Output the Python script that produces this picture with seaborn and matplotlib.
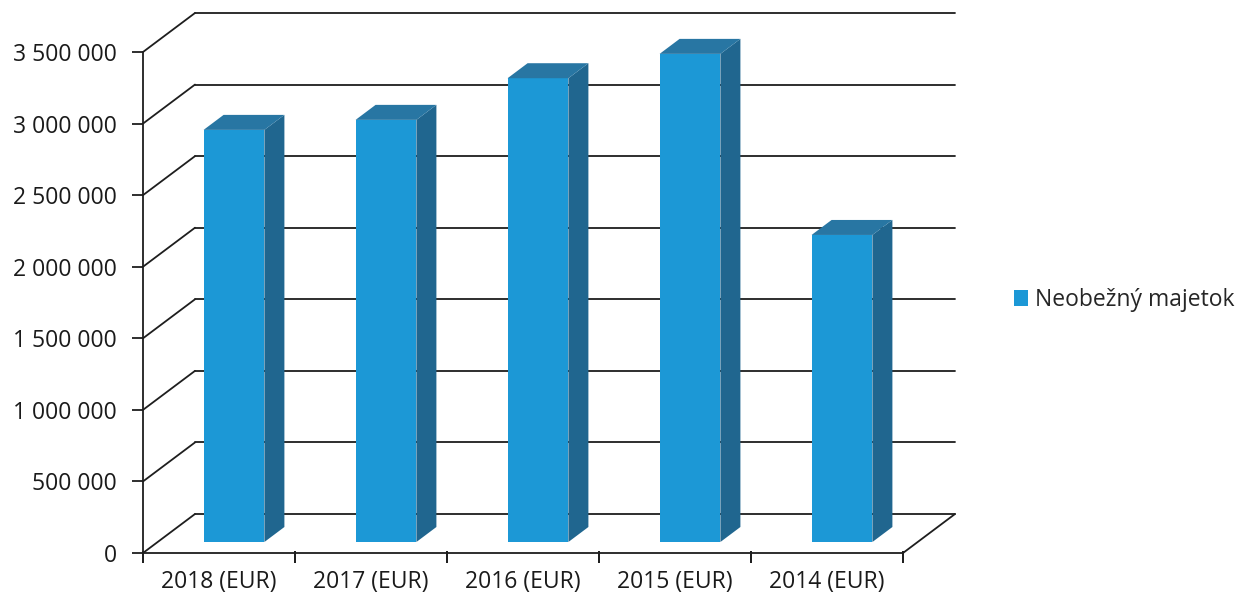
import matplotlib
matplotlib.use("Agg")
import matplotlib.pyplot as plt
import matplotlib.transforms as mtransforms
from matplotlib.patches import Polygon, Rectangle
from matplotlib.ticker import FuncFormatter
import seaborn as sns
import pandas as pd

# ---- data ----
categories = ["2018 (EUR)", "2017 (EUR)", "2016 (EUR)", "2015 (EUR)", "2014 (EUR)"]
values = [2879000, 2949000, 3240000, 3410000, 2145000]
series_name = "Neobežný majetok"
y_ticks = [0, 500000, 1000000, 1500000, 2000000, 2500000, 3000000, 3500000]

# ---- style ----
sns.set_theme(style="white")
plt.rcParams["font.family"] = ["Open Sans", "DejaVu Sans"]

FRONT = "#1c98d6"
TOP = "#2876a3"
SIDE = "#20668f"
LINE = "#1e1e1e"

W, H = 1249, 603
fig = plt.figure(figsize=(W / 100, H / 100), dpi=100)
ax = fig.add_axes([143 / W, (H - 553) / H, (903 - 143) / W, (553 - 52) / H])

df = pd.DataFrame({"year": categories, "value": values})
sns.barplot(data=df, x="year", y="value", color=FRONT, saturation=1,
            width=0.40, ax=ax, zorder=3)

ax.set_xlim(-0.5, len(categories) - 0.5)
ax.set_ylim(0, 3500000)
ax.set_yticks(y_ticks)
ax.yaxis.set_major_formatter(FuncFormatter(lambda v, p: f"{int(v):,}".replace(",", " ")))
ax.set_xlabel("")
ax.set_ylabel("")
for s in ax.spines.values():
    s.set_visible(False)
ax.patch.set_alpha(0)

# depth offsets (pixels)
BACK_DX, BACK_DY = 52, 39
BAR_DX, BAR_DY = 15, 11
SIDE_DX, SIDE_DY = 20, 15

to_disp = ax.transData.transform
ident = mtransforms.IdentityTransform()
x0d, x1d = ax.get_xlim()
LW = 1.3

# back wall gridlines + left wall diagonals
back_tr = mtransforms.offset_copy(ax.transData, fig=fig, x=BACK_DX, y=BACK_DY, units="dots")
for v in y_ticks:
    ax.plot([x0d, x1d], [v, v], color=LINE, lw=LW, transform=back_tr, clip_on=False, zorder=1)
    px, py = to_disp((x0d, v))
    ax.add_line(plt.Line2D([px, px + BACK_DX], [py, py + BACK_DY], color=LINE, lw=LW,
                           transform=ident, clip_on=False, zorder=1))
# floor: front edge and right diagonal
ax.plot([x0d, x1d], [0, 0], color=LINE, lw=LW, clip_on=False, zorder=1)
px, py = to_disp((x1d, 0))
ax.add_line(plt.Line2D([px, px + BACK_DX], [py, py + BACK_DY], color=LINE, lw=LW,
                       transform=ident, clip_on=False, zorder=1))
# front vertical value axis
ax.plot([x0d, x0d], [0, y_ticks[-1]], color=LINE, lw=LW, clip_on=False, zorder=1)

# move bars into depth and add top + side faces
bar_tr = mtransforms.offset_copy(ax.transData, fig=fig, x=BAR_DX, y=BAR_DY, units="dots")
for patch in list(ax.patches):
    patch.set_transform(bar_tr)
    patch.set_clip_on(False)
    patch.set_linewidth(0)
    bx, by = patch.get_x(), patch.get_y()
    bw, bh = patch.get_width(), patch.get_height()
    (lx, by0) = to_disp((bx, by))
    (rx, ty) = to_disp((bx + bw, by + bh))
    lx += BAR_DX; rx += BAR_DX; by0 += BAR_DY; ty += BAR_DY
    side = Polygon([(rx, by0), (rx + SIDE_DX, by0 + SIDE_DY), (rx + SIDE_DX, ty + SIDE_DY), (rx, ty)],
                   closed=True, facecolor=SIDE, edgecolor="none", transform=ident,
                   clip_on=False, zorder=3)
    top = Polygon([(lx, ty), (lx + SIDE_DX, ty + SIDE_DY), (rx + SIDE_DX, ty + SIDE_DY), (rx, ty)],
                  closed=True, facecolor=TOP, edgecolor="none", transform=ident,
                  clip_on=False, zorder=3)
    ax.add_patch(side)
    ax.add_patch(top)

# ticks
ax.tick_params(axis="y", which="major", left=True, length=8, width=LW, color=LINE,
               labelsize=16.5, labelcolor="#1a1a1a", pad=11)
ax.tick_params(axis="x", which="major", bottom=False, labelsize=16.5, labelcolor="#1a1a1a", pad=6)
# x tick marks at category boundaries
for i in range(len(categories) + 1):
    ax.plot([i - 0.5, i - 0.5], [0, 0], marker="|", markersize=9, markeredgewidth=LW, color=LINE,
            transform=mtransforms.offset_copy(ax.transData, fig=fig, x=0, y=-4, units="dots"),
            clip_on=False, zorder=1)

# legend
handle = Rectangle((0, 0), 1, 1, facecolor=FRONT, edgecolor="none")
fig.legend([handle], [series_name], loc="center left", bbox_to_anchor=(1014 / W, 1 - 300 / H),
           frameon=False, fontsize=16.5, handlelength=0.6, handleheight=0.7,
           handletextpad=0.3, borderaxespad=0, borderpad=0)

fig.savefig("out.png", dpi=100, facecolor="white")
